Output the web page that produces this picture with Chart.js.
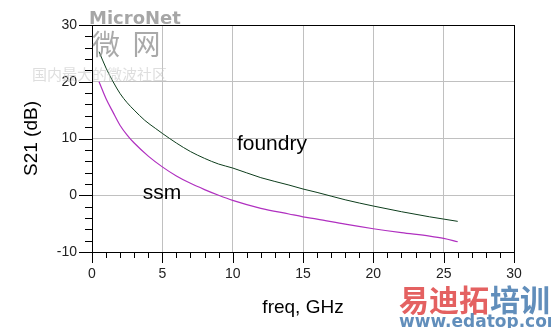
<!DOCTYPE html>
<html>
<head>
<meta charset="utf-8">
<script src="https://cdn.jsdelivr.net/npm/chart.js@4"></script>
<style>
  html, body { margin: 0; padding: 0; background: #fff; }
  #chart { display: block; }
</style>
</head>
<body>
<canvas id="chart" width="551" height="328"></canvas>
<script>
// S21 vs frequency
const freqFoundry = [0.5, 1, 1.5, 2, 2.5, 3, 3.75, 4.5, 5, 6, 7, 8, 9, 10, 12, 14, 15, 16, 18, 20, 22, 24, 25, 26];
const s21Foundry  = [25.3, 22.4, 20.0, 17.9, 16.3, 15.0, 13.2, 11.8, 10.9, 9.2, 7.7, 6.5, 5.5, 4.8, 3.1, 1.8, 1.1, 0.5, -0.8, -1.9, -2.9, -3.8, -4.2, -4.6];

const freqSsm = [0.5, 1, 1.5, 2, 2.5, 3, 4, 5, 6, 7, 8, 9, 10, 12, 14, 15, 16, 18, 20, 22, 24, 25, 26];
const s21Ssm  = [20.0, 17.0, 14.6, 12.3, 10.6, 9.2, 6.9, 5.0, 3.4, 2.1, 1.0, 0.0, -0.9, -2.3, -3.3, -3.8, -4.2, -5.1, -5.9, -6.6, -7.2, -7.6, -8.2];

const xTicks = [0, 5, 10, 15, 20, 25, 30];
const yTicks = [-10, 0, 10, 20, 30];

const labels = [
  { text: 'foundry', x: 10.3, y: 9.0 },
  { text: 'ssm', x: 3.6, y: 0.3 }
];

const toPts = (xs, ys) => xs.map((x, i) => ({ x: x, y: ys[i] }));

// frame, major/minor tick marks, curve labels, watermarks
const axisDecor = {
  id: 'axisDecor',
  afterDraw(chart) {
    const { ctx, chartArea: a, scales } = chart;
    const xs = scales.x, ys = scales.y;
    ctx.save();
    ctx.strokeStyle = '#000';
    ctx.lineWidth = 1;
    ctx.beginPath();
    for (let v = 0; v <= 30; v += 1) {
      const px = Math.round(xs.getPixelForValue(v)) + 0.5;
      const len = xTicks.includes(v) ? 11 : 6;
      ctx.moveTo(px, a.bottom);
      ctx.lineTo(px, a.bottom + len);
    }
    for (let v = -10; v <= 30; v += 2) {
      const py = Math.round(ys.getPixelForValue(v)) + 0.5;
      const len = yTicks.includes(v) ? 13 : 7;
      ctx.moveTo(a.left, py);
      ctx.lineTo(a.left - len, py);
    }
    ctx.stroke();
    ctx.strokeRect(Math.round(a.left) + 0.5, Math.round(a.top) + 0.5,
                   Math.round(a.right - a.left), Math.round(a.bottom - a.top));

    ctx.fillStyle = '#000';
    ctx.font = '21px "Liberation Sans", Arial, sans-serif';
    ctx.textBaseline = 'middle';
    labels.forEach(l => {
      ctx.fillText(l.text, xs.getPixelForValue(l.x), ys.getPixelForValue(l.y));
    });

    ctx.textBaseline = 'alphabetic';
    ctx.fillStyle = 'rgba(150,150,150,0.85)';
    ctx.font = 'bold 18px "DejaVu Sans", sans-serif';
    ctx.fillText('MicroNet', 89, 24);
    ctx.fillStyle = 'rgba(140,140,140,0.75)';
    ctx.font = '28px "Noto Sans CJK SC", sans-serif';
    ctx.fillText('微  网', 92, 55);
    ctx.fillStyle = 'rgba(200,200,200,0.6)';
    ctx.font = '15px "Noto Sans CJK SC", sans-serif';
    ctx.fillText('国内最大的微波社区', 32, 80);
    ctx.font = 'bold 30px "Noto Sans CJK SC", sans-serif';
    ctx.fillStyle = 'rgba(225,80,80,0.9)';
    ctx.fillText('易迪拓', 399, 311);
    ctx.fillStyle = 'rgba(80,130,180,0.9)';
    ctx.fillText('培训', 490, 311);
    ctx.font = 'bold 17px "DejaVu Sans", sans-serif';
    ctx.fillText('www.edatop.com', 399, 327);
    ctx.restore();
  }
};

const chart = new Chart(document.getElementById('chart'), {
  type: 'scatter',
  data: {
    datasets: [
      {
        label: 'foundry',
        data: toPts(freqFoundry, s21Foundry),
        showLine: true,
        borderColor: '#0d3d1c',
        borderWidth: 1,
        pointRadius: 0,
        cubicInterpolationMode: 'monotone'
      },
      {
        label: 'ssm',
        data: toPts(freqSsm, s21Ssm),
        showLine: true,
        borderColor: '#b030c0',
        borderWidth: 1.2,
        pointRadius: 0,
        cubicInterpolationMode: 'monotone'
      }
    ]
  },
  options: {
    responsive: false,
    animation: false,
    layout: { padding: { left: 0, right: 37, top: 25, bottom: 0 } },
    plugins: {
      legend: { display: false },
      tooltip: { enabled: false }
    },
    scales: {
      x: {
        type: 'linear',
        min: 0, max: 30,
        afterBuildTicks: s => { s.ticks = xTicks.map(v => ({ value: v })); },
        afterFit: s => { s.height = 76; },
        grid: { color: '#c0c0c0', drawTicks: true, tickLength: 11, tickColor: 'rgba(0,0,0,0)' },
        border: { display: false },
        ticks: {
          padding: 3,
          color: '#222',
          font: { family: '"Liberation Sans", Arial, sans-serif', size: 14 },
          maxRotation: 0
        },
        title: {
          display: true,
          text: 'freq, GHz',
          color: '#000',
          font: { family: '"Liberation Sans", Arial, sans-serif', size: 19 },
          padding: { top: 4, bottom: 9 }
        }
      },
      y: {
        type: 'linear',
        min: -10, max: 30,
        afterBuildTicks: s => { s.ticks = yTicks.map(v => ({ value: v })); },
        afterFit: s => { s.width = 92; },
        grid: { color: '#c0c0c0', drawTicks: true, tickLength: 13, tickColor: 'rgba(0,0,0,0)' },
        border: { display: false },
        ticks: {
          padding: 2,
          color: '#222',
          font: { family: '"Liberation Sans", Arial, sans-serif', size: 14 }
        },
        title: {
          display: true,
          text: 'S21 (dB)',
          color: '#000',
          font: { family: '"Liberation Sans", Arial, sans-serif', size: 19 },
          padding: { top: 20, bottom: 0 }
        }
      }
    }
  },
  plugins: [axisDecor]
});
</script>
</body>
</html>
